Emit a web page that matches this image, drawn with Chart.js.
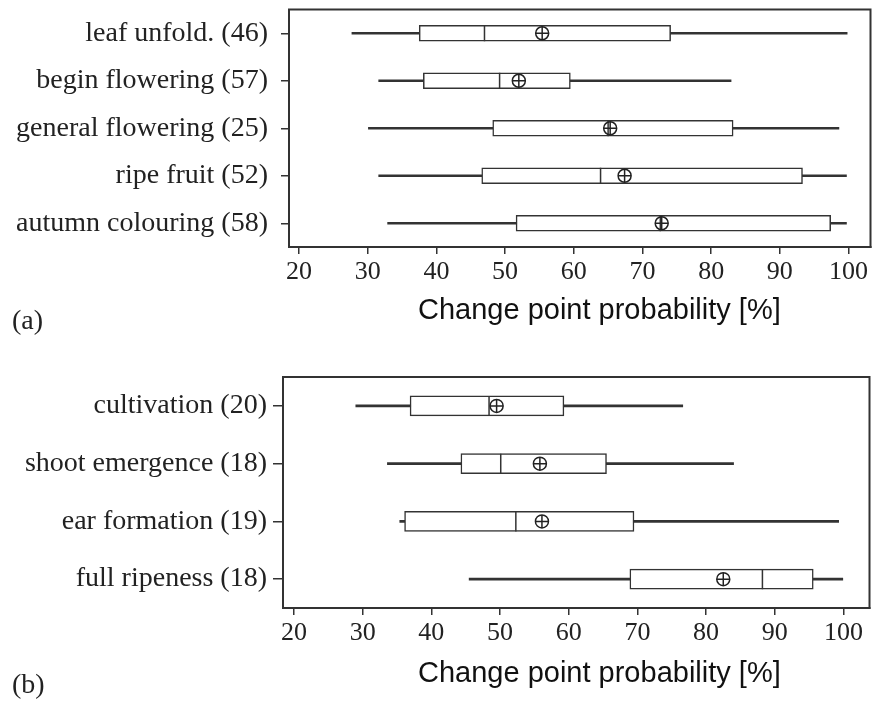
<!DOCTYPE html>
<html>
<head>
<meta charset="utf-8">
<script src="https://cdn.jsdelivr.net/npm/chart.js@4.4.0/dist/chart.umd.min.js"></script>
<style>
html, body { margin: 0; padding: 0; background: #fff; }
#wrap { position: relative; width: 872px; height: 701px; overflow: hidden; }
.panel { position: absolute; left: 0; }
.tag { position: absolute; left: 12px; font-family: "Liberation Serif", serif; font-size: 28px; color: #222; }
.xtitle { position: absolute; left: 418px; font-family: "Liberation Sans", Arial, sans-serif; font-size: 29px; line-height: 34px; color: #111; white-space: nowrap; }
</style>
</head>
<body>
<div id="wrap">
  <div class="panel" style="top:0;width:880px;height:340px"><canvas id="chartA"></canvas></div>
  <div class="panel" style="top:360px;width:881px;height:341px"><canvas id="chartB"></canvas></div>
  <div class="xtitle" style="top:292px">Change point probability [%]</div>
  <div class="xtitle" style="top:655px">Change point probability [%]</div>
  <div class="tag" style="top:304px">(a)</div>
  <div class="tag" style="top:668px">(b)</div>
</div>
<script>
// tick labels shared by both panels
const xTicks = [20, 30, 40, 50, 60, 70, 80, 90, 100];

// panel (a) - phenophases
const labelsA = ['leaf unfold. (46)', 'begin flowering (57)', 'general flowering (25)', 'ripe fruit (52)', 'autumn colouring (58)'];
const minA  = [27.7, 31.6, 30.1, 31.6, 32.9];
const q1A   = [37.5, 38.1, 48.2, 46.6, 51.6];
const medA  = [47.0, 49.2, 65.0, 63.9, 72.6];
const meanA = [55.4, 52.0, 65.3, 67.4, 72.8];
const q3A   = [74.1, 59.5, 83.2, 93.3, 97.4];
const maxA  = [99.8, 82.9, 98.6, 99.7, 99.7];

// panel (b) - crop stages
const labelsB = ['cultivation (20)', 'shoot emergence (18)', 'ear formation (19)', 'full ripeness (18)'];
const minB  = [29.0, 33.6, 35.4, 45.5];
const q1B   = [36.9, 44.3, 36.1, 68.9];
const medB  = [48.4, 50.1, 52.3, 88.2];
const meanB = [49.5, 55.8, 56.1, 82.5];
const q3B   = [59.3, 65.5, 69.5, 95.6];
const maxB  = [76.6, 84.0, 99.3, 99.9];

const ink = '#333';

const framePlugin = {
    id: 'frame',
    afterDatasetsDraw(chart) {
        let a = chart.chartArea, ctx = chart.ctx;
        ctx.save();
        ctx.strokeStyle = ink;
        ctx.lineWidth = 2;
        ctx.strokeRect(a.left, a.top, a.right - a.left, a.bottom - a.top);
        ctx.restore();
    }
};

function makeChart(id, labels, mins, q1s, meds, means, q3s, maxs, cfg) {
    let pts = arr => arr.map((v, i) => ({ x: v, y: labels[i] }));

    return new Chart(document.getElementById(id), {
        type: 'bar',
        data: {
            labels: labels,
            datasets: [
                {
                    type: 'scatter', data: pts(means), order: 0,
                    pointStyle: 'cross', pointRadius: cfg.meanR, pointBorderColor: '#222', pointBorderWidth: 1.5
                },
                {
                    type: 'scatter', data: pts(means), order: 1,
                    pointStyle: 'circle', pointRadius: cfg.meanR, pointBorderColor: '#222', pointBorderWidth: 1.5,
                    pointBackgroundColor: 'rgba(255,255,255,0)'
                },
                {
                    type: 'scatter', data: pts(meds), order: 2,
                    pointStyle: 'line', pointRotation: 90, pointRadius: cfg.boxH / 2,
                    pointBorderColor: ink, pointBorderWidth: 1.5
                },
                {
                    data: q1s.map((v, i) => [v, q3s[i]]), order: 3, grouped: false,
                    barThickness: cfg.boxH, backgroundColor: '#fff', borderColor: ink,
                    borderWidth: 1.5, borderSkipped: false
                },
                {
                    data: mins.map((v, i) => [v, maxs[i]]), order: 4, grouped: false,
                    barThickness: 2, backgroundColor: ink, borderWidth: 0
                }
            ]
        },
        options: {
            indexAxis: 'y',
            responsive: true,
            maintainAspectRatio: false,
            animation: false,
            layout: { padding: { top: cfg.top, right: 2, bottom: 0, left: 0 } },
            plugins: { legend: { display: false }, tooltip: { enabled: false } },
            scales: {
                x: {
                    type: 'linear',
                    min: cfg.xmin,
                    max: cfg.xmax,
                    afterBuildTicks: s => { s.ticks = xTicks.map(v => ({ value: v })); },
                    afterFit: s => { s.height = cfg.xH; s.paddingLeft = 0; s.paddingRight = 0; },
                    border: { display: true, color: ink, width: 2 },
                    grid: { drawOnChartArea: false, drawTicks: true, tickLength: 7, color: ink, lineWidth: 1.5 },
                    ticks: {
                        padding: 3, color: '#222', maxRotation: 0, autoSkip: false,
                        font: { family: '"Liberation Serif", serif', size: 26 }
                    }
                },
                y: {
                    type: 'category',
                    labels: labels,
                    offset: true,
                    afterFit: s => { s.width = cfg.yW; s.paddingTop = 0; s.paddingBottom = 0; },
                    border: { display: true, color: ink, width: 2 },
                    grid: { offset: false, drawOnChartArea: false, drawTicks: true, tickLength: cfg.yTick, color: ink, lineWidth: 1.5 },
                    ticks: {
                        padding: cfg.yPad, color: '#222', autoSkip: false,
                        font: { family: '"Liberation Serif", serif', size: 28 }
                    }
                }
            }
        },
        plugins: [framePlugin]
    });
}

makeChart('chartA', labelsA, minA, q1A, medA, meanA, q3A, maxA, {
    xmin: 18.54, xmax: 103.2, top: 7, xH: 93, yW: 289,
    yTick: 8, yPad: 13, boxH: 16, meanR: 6.5
});

makeChart('chartB', labelsB, minB, q1B, medB, meanB, q3B, maxB, {
    xmin: 18.4, xmax: 103.79, top: 17, xH: 93, yW: 283,
    yTick: 10, yPad: 6, boxH: 20, meanR: 6.5
});
</script>
</body>
</html>
